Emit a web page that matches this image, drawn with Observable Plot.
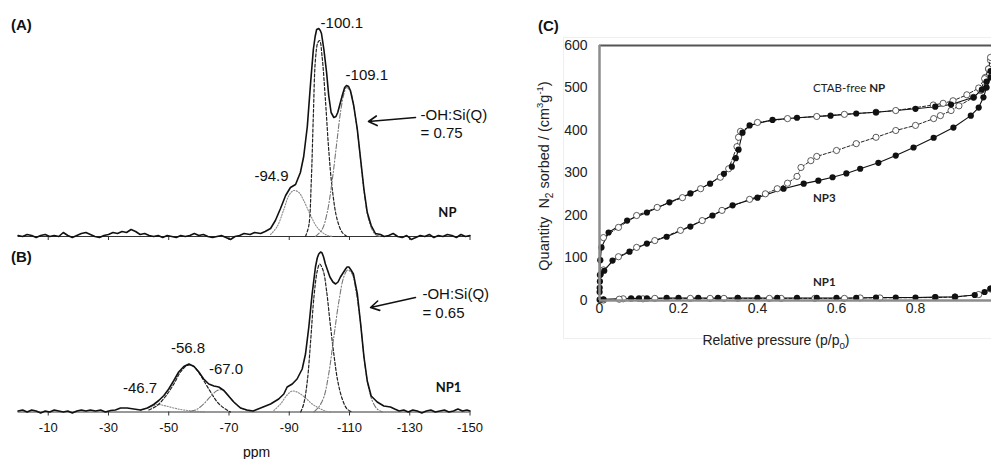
<!DOCTYPE html>
<html><head><meta charset="utf-8">
<script src="https://cdn.jsdelivr.net/npm/d3@7"></script>
<script src="https://cdn.jsdelivr.net/npm/@observablehq/plot@0.6"></script>
<style>
html,body{margin:0;padding:0;background:#fff;overflow:hidden;}
#root{position:relative;width:991px;height:459px;overflow:hidden;font-family:"Liberation Sans",Arial,sans-serif;color:#111;}
.abs{position:absolute;white-space:nowrap;line-height:1;}
.pnl{position:absolute;}
.pnl svg{max-width:none !important;}
</style></head><body><div id="root"></div>
<script>
// ---------- DATA ----------
const ppmTicks = [-10, -30, -50, -70, -90, -110, -130, -150];
const pressureTicks = [0, 0.2, 0.4, 0.6, 0.8];
const quantityTicks = [0, 100, 200, 300, 400, 500, 600];

// Panel A (NP) 29Si spectrum: [ppm, intensity a.u.]
const specA = [[0,1],[-1.5,0],[-3,2],[-4.5,1],[-6,-1],[-7.5,1],[-9,2],[-10.5,0],[-12,1],[-13.5,0],[-15,4],[-16.5,1],[-18,-1],[-19.5,1],[-21,3],[-22.5,4],[-24,2],[-25.5,0],[-27,-1],[-28.5,1],[-30,2],[-31.5,4],[-33,3],[-34.5,5],[-36,4],[-37.5,7],[-39,5],[-40.5,2],[-42,3],[-43.5,1],[-45,0],[-46.5,1],[-48,-1],[-49.5,1],[-51,0],[-52.5,-1],[-54,1],[-55.5,0],[-57,1],[-58.5,3],[-60,1],[-61.5,2],[-63,0],[-64.5,-1],[-66,0],[-67.5,1],[-69,-1],[-70.5,-3],[-72,0],[-73.5,1],[-75,3],[-77,2],[-78.5,4],[-80.5,3],[-82,5],[-83.8,8],[-85.4,16],[-87.1,28],[-88.8,41],[-90.4,49],[-92.1,52],[-93.7,64],[-94.8,80],[-96,110],[-97.1,154],[-98,187],[-98.6,200],[-99.1,207],[-99.8,208],[-100.3,206],[-100.7,203],[-101.5,187],[-102.4,164],[-103.1,141],[-103.9,124],[-104.8,119],[-105.5,120],[-106.1,124],[-107.6,141],[-108.4,149],[-109,151],[-109.7,150],[-110.3,146],[-111.4,131],[-112.6,107],[-113.7,77],[-114.8,47],[-115.9,24],[-117.2,11],[-118.6,3],[-120.3,2],[-121.5,0],[-123,1],[-124.5,3],[-126,0],[-127.5,-1],[-129,1],[-130.5,-3],[-132,-1],[-133.5,1],[-135,0],[-136.5,2],[-138,-1],[-139.5,1],[-141,0],[-142.5,2],[-144,1],[-145.5,-1],[-147,2],[-148.5,0],[-150,1]];
const fitA_Q2 = [[-83.8,2],[-86,10],[-88.2,27],[-89.9,41],[-91.5,46],[-93.2,44],[-94.8,36],[-97.1,21],[-99.3,9],[-102,2],[-104.3,0]];
const fitA_Q3 = [[-95.4,0],[-96.5,11],[-97.3,54],[-98,121],[-98.7,177],[-99.5,194],[-100.1,196],[-100.9,180],[-102,137],[-103.1,87],[-104.3,47],[-105.9,17],[-107.6,4],[-109.2,0]];
const fitA_Q4 = [[-98.7,0],[-100.9,7],[-102.6,24],[-104.3,57],[-105.9,97],[-107,124],[-108.1,142],[-109,149],[-110.3,145],[-111.4,130],[-112.6,106],[-113.7,76],[-114.8,46],[-115.9,23],[-117.2,9],[-118.6,2],[-120.3,0]];

// Panel B (NP1) spectrum
const specB = [[0,1],[-1.5,2],[-3,0],[-4.5,2],[-6,1],[-7.5,-1],[-9,1],[-10.5,0],[-12,2],[-13.5,1],[-15,0],[-16.5,1],[-18,-1],[-19.5,1],[-21,2],[-22.5,1],[-24,2],[-25.7,1],[-27.4,2],[-29,0],[-30.7,1.5],[-32.3,2],[-34,4],[-36.2,4],[-38.4,3],[-40.6,2],[-42.9,4],[-45,7.5],[-46.7,11.5],[-48.4,16.5],[-50,23],[-51.7,31.5],[-53.3,40],[-55,45.5],[-56.7,48],[-58.4,45.5],[-60,40],[-61.6,33],[-63.3,28],[-65,26],[-66.6,25],[-68.3,21.5],[-70,15.5],[-71.6,10],[-73.8,4],[-76,2],[-78,1],[-80.5,4],[-83.8,8],[-86.5,13],[-88.2,18],[-89.3,25],[-91,28],[-92.6,33],[-94.3,43],[-95.4,58],[-96.5,85],[-97.6,118],[-98.7,145],[-99.3,154],[-99.8,158],[-100.4,160],[-100.9,159],[-101.4,155],[-102,148],[-103.5,135],[-104.5,130],[-105.4,128],[-106.2,130],[-107,135],[-108.7,143],[-109.2,145],[-109.8,145],[-110.5,142],[-111.3,138],[-112.6,118],[-113.7,88],[-114.8,55],[-115.9,31],[-117.2,16],[-119.2,10],[-121.4,6],[-123.6,5],[-125,3],[-126.5,1],[-128,2],[-129.5,0],[-131,2],[-132.5,1],[-134,-1],[-135.5,1],[-137,2],[-138.5,0],[-140,1],[-141.5,2],[-143,0],[-144.5,1],[-146,3],[-147.5,1],[-149,2],[-150,1]];
const fitB_T1 = [[-40.6,1.5],[-44,5],[-46.2,7.5],[-48.4,6.5],[-51.7,4],[-55,2],[-58.4,1],[-62,0]];
const fitB_T2 = [[-43.4,2],[-46.2,6.5],[-48.9,15.5],[-51.7,28],[-53.9,40],[-56.1,46.5],[-57.8,46.5],[-59.5,41.5],[-61.6,31.5],[-63.9,20],[-66.1,10],[-68.3,4],[-70.5,0]];
const fitB_T3 = [[-57.2,0.5],[-59.5,3],[-61.6,8],[-63.9,15.5],[-66.1,21.5],[-67.8,22],[-69.4,18],[-71.1,11.5],[-73.3,5.5],[-75.5,2],[-78,0]];
const fitB_Q2 = [[-84.9,1.5],[-87.1,8],[-89.3,17],[-91,21],[-93.2,19],[-95.4,14],[-97.6,8],[-99.8,4],[-102,1],[-103.7,0]];
const fitB_Q3 = [[-93.8,0],[-94.8,8],[-96,31],[-97.1,71],[-98.2,115],[-99.3,141],[-100.1,148],[-101.3,141],[-102.4,121],[-103.5,91],[-104.8,58],[-106.1,31],[-107.6,13],[-109.2,3],[-110.9,0]];
const fitB_Q4 = [[-98.2,0],[-99.8,5],[-101.5,15],[-103.1,38],[-104.8,75],[-106.5,111],[-108.1,135],[-109.4,142],[-110.9,138],[-112.3,118],[-113.7,88],[-114.8,55],[-116.1,28],[-117.6,11],[-119.2,3],[-120.9,0]];

// Annotations
const peakLabelsA = [{ppm:-100.4,i:213,text:"-100.1",a:"start"},{ppm:-108.7,i:161,text:"-109.1",a:"start"},{ppm:-89.8,i:60,text:"-94.9",a:"end"}];
const ratioA = [{ppm:-133.6,i:121,text:"-OH:Si(Q)"},{ppm:-133.6,i:103,text:"= 0.75"}];
const arrowA = [{x1:-131.9,y1:119,x2:-116.3,y2:115}];
const sampleA = [{ppm:-139.5,i:24,text:"NP"}];
const peakLabelsB = [{ppm:-56.4,i:64,text:"-56.8"},{ppm:-69.0,i:42.5,text:"-67.0"},{ppm:-40.5,i:23.5,text:"-46.7"}];
const ratioB = [{ppm:-134.2,i:117.5,text:"-OH:Si(Q)"},{ppm:-134.2,i:98.5,text:"= 0.65"}];
const arrowB = [{x1:-131.9,y1:114.5,x2:-117,y2:104.5}];
const sampleB = [{ppm:-138.6,i:24.5,text:"NP1"}];

// Panel C isotherms: [p/p0, quantity cm3/g]
const ctabAds = [[0.0005,30],[0.001,60],[0.002,95],[0.005,125],[0.023,160],[0.07,188],[0.12,207],[0.177,231],[0.23,252],[0.28,275],[0.315,298],[0.335,315],[0.345,335],[0.352,355],[0.362,395],[0.38,412],[0.438,425],[0.5,430],[0.585,435],[0.65,440],[0.7,443],[0.8,451],[0.85,456],[0.89,461],[0.947,478],[0.968,496],[0.98,515],[0.99,540]];
const ctabDes = [[0.99,572],[0.985,545],[0.975,522],[0.96,500],[0.93,484],[0.895,470],[0.87,464],[0.845,460],[0.75,447],[0.7,443],[0.62,438],[0.55,433],[0.476,428],[0.4,419],[0.357,398],[0.352,384],[0.348,362],[0.327,310],[0.306,290],[0.256,263],[0.21,242],[0.146,219],[0.094,200],[0.048,172],[0.01,148]];
const np3Ads = [[0.0003,20],[0.001,45],[0.003,62],[0.012,70],[0.033,94],[0.076,115],[0.12,134],[0.17,150],[0.23,174],[0.286,200],[0.337,224],[0.4,242],[0.466,263],[0.517,275],[0.554,282],[0.59,290],[0.625,299],[0.66,310],[0.706,324],[0.75,341],[0.795,360],[0.846,383],[0.896,407],[0.94,435],[0.96,454],[0.972,478],[0.98,501],[0.99,525]];
const np3Des = [[0.99,565],[0.985,545],[0.977,525],[0.965,494],[0.947,478],[0.91,458],[0.89,447],[0.863,435],[0.846,428],[0.8,412],[0.75,400],[0.7,384],[0.65,369],[0.6,353],[0.55,339],[0.535,329],[0.51,313],[0.5,292],[0.476,276],[0.45,263],[0.42,251],[0.38,238],[0.31,212],[0.26,188],[0.205,165],[0.14,141],[0.094,125],[0.048,103],[0.01,72]];
const np1Ads = [[0.0003,2],[0.01,3],[0.08,5],[0.1,5],[0.12,5],[0.17,6],[0.2,6],[0.25,6],[0.3,6],[0.35,6],[0.4,6],[0.45,6],[0.5,6],[0.55,6],[0.6,6],[0.65,6],[0.7,7],[0.75,7],[0.8,7],[0.85,8],[0.9,9],[0.95,13],[0.975,20],[0.99,28]];
const np1Des = [[0.99,27],[0.96,14],[0.9,8],[0.85,7],[0.71,6],[0.66,6],[0.62,5],[0.545,5],[0.46,5],[0.43,5],[0.35,5],[0.315,5],[0.28,5],[0.23,5],[0.14,5],[0.11,4],[0.06,4],[0.05,3],[0.01,1]];

// ---------- DRAW ----------
const root = document.getElementById("root");
const FONT = '"Liberation Sans", Arial, sans-serif';
const CAL = "Lato, 'Open Sans', sans-serif";
const X = d => d[0], Y = d => d[1];

function place(el, left, top, w, h) {
  const d = document.createElement("div");
  d.className = "pnl";
  Object.assign(d.style, {left: left + "px", top: top + "px", width: w + "px", height: h + "px"});
  d.appendChild(el); root.appendChild(d);
}
function label(html, left, top, size, extra) {
  const d = document.createElement("div");
  d.className = "abs"; d.innerHTML = html;
  d.style.left = left + "px"; d.style.top = top + "px"; d.style.fontSize = size + "px";
  if (extra) Object.assign(d.style, extra);
  root.appendChild(d); return d;
}

function fitMarks(dotted, dashed, dashdot) {
  return [
    ...dotted.map(s => Plot.line(s, {x: X, y: Y, curve: "catmull-rom", stroke: "#8a8a8a", strokeWidth: 1.1, strokeDasharray: "1.2,1.6"})),
    ...dashed.map(s => Plot.line(s, {x: X, y: Y, curve: "catmull-rom", stroke: "#222", strokeWidth: 1.2, strokeDasharray: "3,2"})),
    ...dashdot.map(s => Plot.line(s, {x: X, y: Y, curve: "catmull-rom", stroke: "#777", strokeWidth: 1.1, strokeDasharray: "5,2,1.2,2"}))
  ];
}
const txt = (data, opts) => Plot.text(data, {x: "ppm", y: "i", text: "text", lineAnchor: "middle", fill: "#111", fontSize: 15, ...opts});

// Panel A
const plotA = Plot.plot({
  width: 500, height: 245, marginLeft: 17.6, marginRight: 30.5, marginTop: 16, marginBottom: 9,
  x: {domain: [0, -150]}, y: {domain: [0, 220], axis: null},
  style: {fontFamily: FONT, fontSize: "13px", color: "#111", background: "transparent", overflow: "visible"},
  marks: [
    Plot.ruleY([0], {stroke: "#333", strokeWidth: 1}),
    Plot.axisX({ticks: ppmTicks, tickSize: 4, tickFormat: () => "", label: null, stroke: "#333"}),
    ...fitMarks([fitA_Q2], [fitA_Q3], [fitA_Q4]),
    Plot.line(specA, {x: X, y: Y, curve: "linear", stroke: "#111", strokeWidth: 1.6, strokeLinejoin: "round"}),
    txt(peakLabelsA.filter(d => d.a === "start"), {textAnchor: "start"}),
    txt(peakLabelsA.filter(d => d.a === "end"), {textAnchor: "end"}),
    txt(ratioA, {textAnchor: "start"}),
    Plot.arrow(arrowA, {x1: "x1", y1: "y1", x2: "x2", y2: "y2", stroke: "#111", strokeWidth: 1.6, headLength: 9}),
    txt(sampleA, {textAnchor: "start", fontSize: 13, fontWeight: "bold", fontFamily: CAL})
  ]
});
place(plotA, 0, 0, 500, 245);

// Panel B
const plotB = Plot.plot({
  width: 500, height: 214, marginLeft: 17.6, marginRight: 30.5, marginTop: 6.5, marginBottom: 47.5,
  x: {domain: [0, -150]}, y: {domain: [0, 160], axis: null},
  style: {fontFamily: FONT, fontSize: "13px", color: "#111", background: "transparent", overflow: "visible"},
  marks: [
    Plot.ruleY([0], {stroke: "#333", strokeWidth: 1}),
    Plot.axisX({ticks: ppmTicks, tickSize: 4, tickPadding: 7, tickFormat: d => String(d), label: null, stroke: "#333", fontSize: 13}),
    ...fitMarks([fitB_T1, fitB_Q2], [fitB_T2, fitB_Q3], [fitB_T3, fitB_Q4]),
    Plot.line(specB, {x: X, y: Y, curve: "linear", stroke: "#111", strokeWidth: 1.6, strokeLinejoin: "round"}),
    txt(peakLabelsB, {textAnchor: "middle"}),
    txt(ratioB, {textAnchor: "start"}),
    Plot.arrow(arrowB, {x1: "x1", y1: "y1", x2: "x2", y2: "y2", stroke: "#111", strokeWidth: 1.6, headLength: 9}),
    txt(sampleB, {textAnchor: "start", fontSize: 13, fontWeight: "bold", fontFamily: CAL})
  ]
});
place(plotB, 0, 245, 500, 214);

label("<b>(A)</b>", 11, 17, 15);
label("<b>(B)</b>", 11, 249, 15);
label("ppm", 243, 445, 14);

// Panel C faint chart-area outline
const bg = document.createElement("div");
bg.className = "abs";
Object.assign(bg.style, {left: "563px", top: "37px", width: "440px", height: "300px", border: "1px solid #efefef"});
root.appendChild(bg);

const isoMarks = (ads, des) => [
  Plot.line(des, {x: X, y: Y, stroke: "#222", strokeWidth: 1, strokeDasharray: "3,2"}),
  Plot.line(ads, {x: X, y: Y, stroke: "#111", strokeWidth: 1.1}),
  Plot.dot(des, {x: X, y: Y, r: 3.1, fill: "#fff", stroke: "#333", strokeWidth: 0.8}),
  Plot.dot(ads, {x: X, y: Y, r: 3.1, fill: "#111"})
];
const plotC = Plot.plot({
  width: 480, height: 459, marginLeft: 79, marginRight: 6, marginTop: 45, marginBottom: 159,
  x: {domain: [0, 1]}, y: {domain: [0, 600]},
  style: {fontFamily: FONT, fontSize: "14px", color: "#222", background: "transparent", overflow: "visible"},
  marks: [
    Plot.axisY({ticks: quantityTicks, tickSize: 0, tickPadding: 12, tickFormat: d => String(d), label: null}),
    Plot.axisX({ticks: pressureTicks, tickSize: 0, tickPadding: 3, tickFormat: d => String(d), label: null}),
    Plot.ruleY([600], {stroke: "#555", strokeWidth: 2}),
    Plot.ruleX([1], {stroke: "#555", strokeWidth: 2}),
    ...isoMarks(np1Ads, np1Des),
    ...isoMarks(np3Ads, np3Des),
    ...isoMarks(ctabAds, ctabDes),
    Plot.ruleX([0], {stroke: "#8c8c8c", strokeWidth: 2.5}),
    Plot.ruleY([0], {stroke: "#8c8c8c", strokeWidth: 2.5})
  ]
});
place(plotC, 520, 0, 480, 459);

label("<b>(C)</b>", 538, 18, 15);
label("Quantity&nbsp; N<sub style='font-size:70%'>2</sub> sorbed / (cm<sup style='font-size:65%'>3</sup>g<sup style='font-size:65%'>-1</sup>)", 545, 176, 14.5,
  {transform: "translate(-50%,-50%) rotate(-90deg)", color: "#222"});
label("Relative pressure (p/p<sub style='font-size:70%'>0</sub>)", 776, 342, 14, {transform: "translate(-50%,-50%)", color: "#222"});
label("CTAB-free <b>NP</b>", 813, 82, 11.5, {fontFamily: CAL, color: "#222"});
label("<b>NP3</b>", 813, 192, 11.5, {fontFamily: CAL, color: "#222"});
label("<b>NP1</b>", 813, 276, 11.5, {fontFamily: CAL, color: "#222"});
</script></body></html>
